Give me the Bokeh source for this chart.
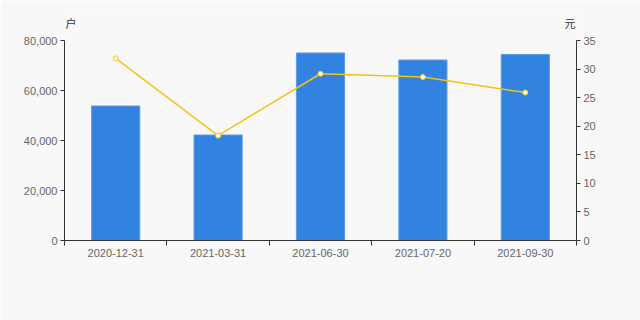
from bokeh.plotting import figure
from bokeh.models import (Range1d, LinearAxis, FixedTicker, NumeralTickFormatter,
                          ColumnDataSource, Label)
from bokeh.embed import file_html
from bokeh.resources import INLINE

categories = ["2020-12-31", "2021-03-31", "2021-06-30", "2021-07-20", "2021-09-30"]
holders = [53800, 42200, 75000, 72200, 74400]
price = [31.86, 18.35, 29.18, 28.6, 25.9]
left_ticks = [0, 20000, 40000, 60000, 80000]
right_ticks = [0, 5, 10, 15, 20, 25, 30, 35]
left_unit = "户"
right_unit = "元"

BG = "#f8f8f8"
AXIS = "#333333"
LABEL = "#666666"
FONT = "Liberation Sans"

n = len(categories)
LMAX, RMAX = 80000, 35
# frame: y 10..240 (values drawn 40..240) so the unit labels sit inside it
top_frac = 230 / 200

xs = [i + 0.5 for i in range(n)]
src = ColumnDataSource(dict(x=xs, holders=holders, price=price, cat=categories))

p = figure(width=640, height=320, output_backend="svg", toolbar_location=None,
           x_range=Range1d(0, n), y_range=Range1d(0, LMAX * top_frac),
           min_border_left=64, min_border_right=64, min_border_top=10, min_border_bottom=80,
           background_fill_color=BG, border_fill_color=BG, outline_line_color=None)
p.extra_y_ranges = {"price": Range1d(0, RMAX * top_frac)}
p.xgrid.visible = False
p.ygrid.visible = False
p.xaxis.visible = False
p.yaxis.visible = False

# x axis
xax = LinearAxis(ticker=FixedTicker(ticks=xs, minor_ticks=list(range(n + 1))),
                 major_label_overrides={x: c for x, c in zip(xs, categories)})
xax.major_tick_out = 0
xax.major_tick_in = 0
xax.minor_tick_out = 5
xax.minor_tick_in = 0
xax.minor_tick_line_color = AXIS
xax.axis_line_color = AXIS
xax.major_label_standoff = 3
xax.major_label_text_font = FONT
xax.major_label_text_font_size = "11px"
xax.major_label_text_color = LABEL
p.add_layout(xax, "below")

# left axis
lax = LinearAxis(ticker=FixedTicker(ticks=left_ticks, minor_ticks=[]),
                 formatter=NumeralTickFormatter(format="0,0"), bounds=(0, LMAX))
lax.major_tick_out = 4
lax.major_tick_in = 0
lax.major_tick_line_color = AXIS
lax.axis_line_color = AXIS
lax.major_label_standoff = 3
lax.major_label_text_font = FONT
lax.major_label_text_font_size = "11px"
lax.major_label_text_color = LABEL
p.add_layout(lax, "left")

# right axis
rax = LinearAxis(y_range_name="price", ticker=FixedTicker(ticks=right_ticks, minor_ticks=[]),
                 bounds=(0, RMAX))
rax.major_tick_out = 4
rax.major_tick_in = 0
rax.major_tick_line_color = AXIS
rax.axis_line_color = AXIS
rax.major_label_standoff = 3
rax.major_label_text_font = FONT
rax.major_label_text_font_size = "11px"
rax.major_label_text_color = LABEL
p.add_layout(rax, "right")

p.vbar(x="x", top="holders", width=0.47, bottom=0, source=src,
       fill_color="#3283e0", line_color="#5a9be8", line_width=1)

p.line(x="x", y="price", source=src, y_range_name="price",
       line_color="#f5c216", line_width=1.5)
p.scatter(x="x", y="price", source=src, y_range_name="price", size=5,
          fill_color="white", line_color="#f5c216", line_width=1)

unit_y = LMAX * 218 / 200
p.add_layout(Label(x=0, y=unit_y, x_offset=1, text=left_unit, text_align="left",
                   text_baseline="middle", text_font="Noto Sans CJK SC",
                   text_font_size="11px", text_color="#333333"))
p.add_layout(Label(x=n, y=unit_y, x_offset=-1, text=right_unit, text_align="right",
                   text_baseline="middle", text_font="Noto Sans CJK SC",
                   text_font_size="11px", text_color="#333333"))

open("out.html", "w").write(file_html(p, INLINE))
